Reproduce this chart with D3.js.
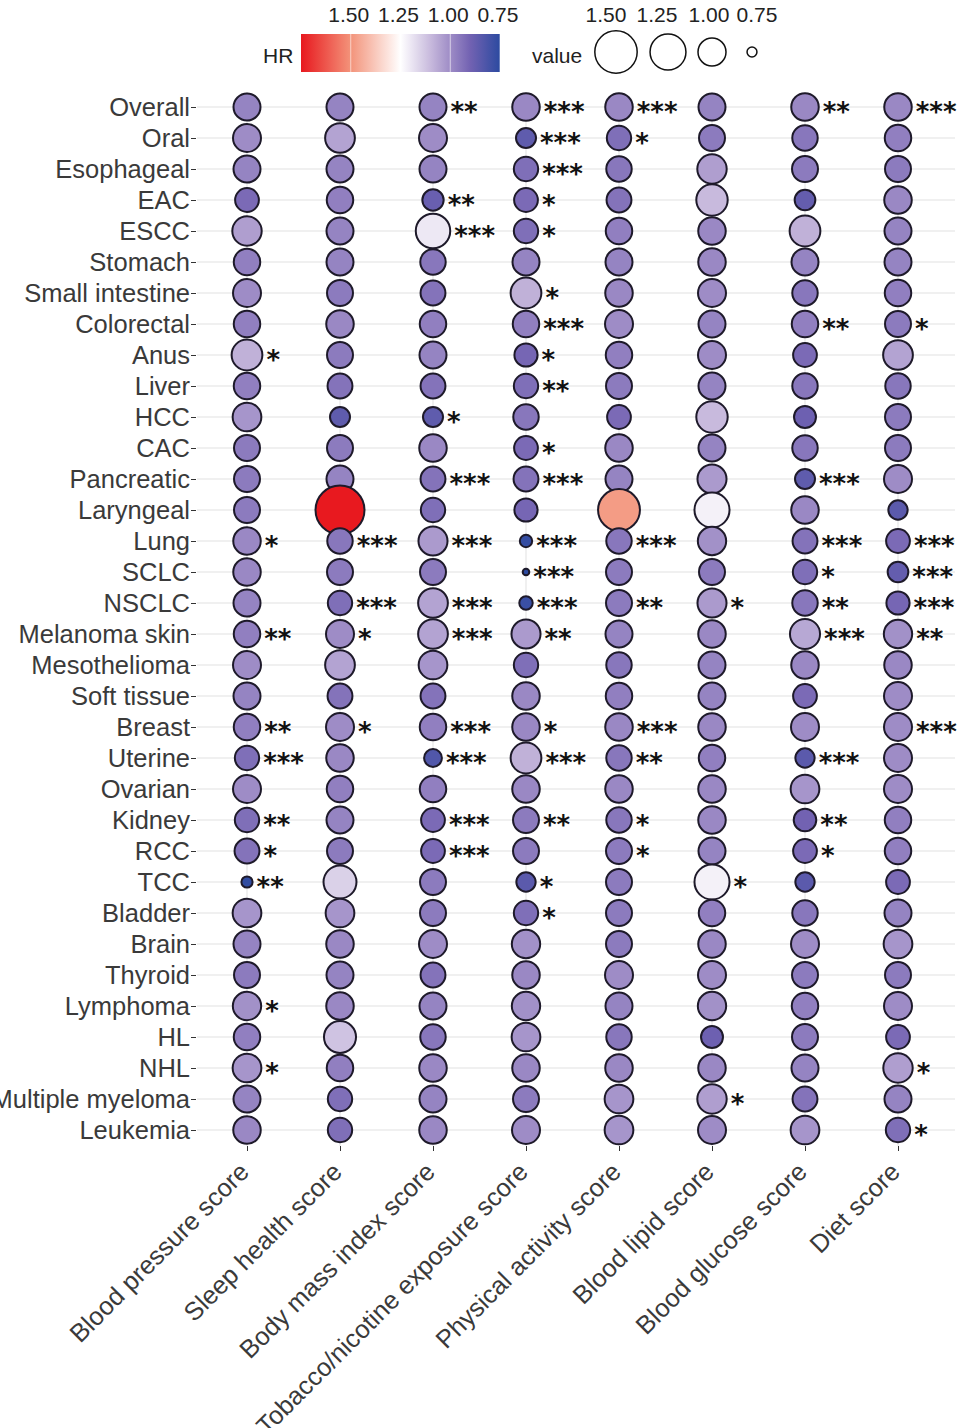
<!DOCTYPE html>
<html><head><meta charset="utf-8">
<script src="https://cdn.jsdelivr.net/npm/d3@7"></script>
<style>body{margin:0;background:#fff}svg{font-family:Arial,"Liberation Sans",sans-serif}</style>
</head><body><svg id="c" width="959" height="1428"></svg>
<script>
const cancers=["Overall","Oral","Esophageal","EAC","ESCC","Stomach","Small intestine","Colorectal","Anus","Liver","HCC","CAC","Pancreatic","Laryngeal","Lung","SCLC","NSCLC","Melanoma skin","Mesothelioma","Soft tissue","Breast","Uterine","Ovarian","Kidney","RCC","TCC","Bladder","Brain","Thyroid","Lymphoma","HL","NHL","Multiple myeloma","Leukemia"];
const scores=["Blood pressure score","Sleep health score","Body mass index score","Tobacco/nicotine exposure score","Physical activity score","Blood lipid score","Blood glucose score","Diet score"];
const hrBP=[0.98,1.0,0.98,0.92,1.04,0.97,1.0,0.97,1.08,0.97,1.02,0.96,0.96,0.96,0.99,0.99,0.98,0.97,1.0,0.98,0.97,0.93,1.0,0.93,0.94,0.76,1.02,0.98,0.96,1.01,0.97,1.02,0.98,0.99];
const hrSleep=[0.98,1.05,0.98,0.97,0.98,0.98,0.96,0.99,0.96,0.94,0.86,0.96,0.98,1.85,0.95,0.96,0.93,1.0,1.05,0.94,1.0,0.99,0.97,0.98,0.96,1.15,1.02,0.99,0.98,0.99,1.12,0.97,0.93,0.93];
const hrBMI=[0.98,1.0,0.98,0.88,1.2,0.95,0.94,0.97,0.98,0.94,0.86,0.99,0.94,0.93,1.03,0.96,1.05,1.05,1.02,0.94,0.97,0.83,0.97,0.92,0.92,0.96,0.96,1.0,0.94,0.98,0.95,0.99,0.98,0.99];
const hrTob=[0.99,0.86,0.93,0.92,0.93,0.98,1.08,0.97,0.91,0.93,0.95,0.92,0.94,0.91,0.77,0.73,0.78,1.03,0.93,0.99,0.99,1.08,0.99,0.96,0.96,0.85,0.93,1.01,0.99,1.01,1.02,0.99,0.96,1.0];
const hrPA=[0.99,0.93,0.95,0.94,0.97,0.98,0.99,1.0,0.97,0.96,0.92,0.99,0.98,1.48,0.95,0.96,0.96,0.98,0.95,0.97,0.99,0.95,0.99,0.95,0.96,0.96,0.96,0.96,1.0,0.98,0.95,0.99,1.02,1.02];
const hrLipid=[0.98,0.96,1.04,1.1,0.99,0.99,1.0,0.98,1.0,0.98,1.1,0.98,1.03,1.22,1.01,0.96,1.03,0.99,0.98,0.98,0.99,0.97,0.99,0.99,0.98,1.22,0.97,0.99,1.0,1.01,0.89,0.99,1.04,1.0];
const hrGlu=[0.99,0.95,0.96,0.87,1.08,0.98,0.95,0.97,0.92,0.95,0.89,0.95,0.86,0.99,0.94,0.93,0.95,1.06,0.99,0.92,1.0,0.85,1.02,0.9,0.92,0.85,0.95,1.0,0.96,0.97,0.96,0.98,0.94,1.02];
const hrDiet=[0.99,0.97,0.96,0.99,0.98,0.98,0.97,0.96,1.05,0.95,0.96,0.96,1.0,0.85,0.92,0.87,0.91,1.01,0.99,1.0,1.0,1.0,1.0,0.97,0.97,0.92,0.98,1.02,0.96,1.0,0.92,1.04,0.98,0.93];
const sigBP=["","","","","","","","","*","","","","","","*","","","**","","","**","***","","**","*","**","","","","*","","*","",""];
const sigSleep=["","","","","","","","","","","","","","","***","","***","*","","","*","","","","","","","","","","","","",""];
const sigBMI=["**","","","**","***","","","","","","*","","***","","***","","***","***","","","***","***","","***","***","","","","","","","","",""];
const sigTob=["***","***","***","*","*","","*","***","*","**","","*","***","","***","***","***","**","","","*","***","","**","","*","*","","","","","","",""];
const sigPA=["***","*","","","","","","","","","","","","","***","","**","","","","***","**","","*","*","","","","","","","","",""];
const sigLipid=["","","","","","","","","","","","","","","","","*","","","","","","","","","*","","","","","","","*",""];
const sigGlu=["**","","","","","","","**","","","","","***","","***","*","**","***","","","","***","","**","*","","","","","","","","",""];
const sigDiet=["***","","","","","","","*","","","","","","","***","***","***","**","","","***","","","","","","","","","","","*","","*"];
const legendTicks=[1.50,1.25,1.00,0.75];

const hrCols=[hrBP,hrSleep,hrBMI,hrTob,hrPA,hrLipid,hrGlu,hrDiet];
const sigCols=[sigBP,sigSleep,sigBMI,sigTob,sigPA,sigLipid,sigGlu,sigDiet];
const svg=d3.select("#c");
const x=d3.scalePoint().domain(scores).range([247,898]);
const y=d3.scalePoint().domain(cancers).range([107,1130]);
const color=d3.scaleLinear().domain([0.75,0.9,1.0,1.1,1.25,1.5,1.75])
  .range(["#2c4aa0","#7262b2","#9e8cc6","#c8badd","#ffffff","#f3937a","#e8191f"]).clamp(true);
const area=d3.scaleLinear().domain([0.72,1.0,1.8]).range([4,196,600]).clamp(true);
const r=v=>Math.sqrt(area(v));

svg.append("g").selectAll("line").data(cancers).join("line")
 .attr("x1",197).attr("x2",955).attr("y1",d=>y(d)).attr("y2",d=>y(d))
 .attr("stroke","#ebebeb").attr("stroke-width",1.5);
svg.append("g").selectAll("line").data(scores).join("line")
 .attr("x1",d=>x(d)).attr("x2",d=>x(d)).attr("y1",92).attr("y2",1146)
 .attr("stroke","#ebebeb").attr("stroke-width",1.5);

const ya=svg.append("g").attr("transform","translate(196,0)").call(d3.axisLeft(y).tickSize(5).tickPadding(1));
ya.select(".domain").remove();
ya.selectAll("text").attr("font-size",25.5).attr("fill","#3a3a3a").attr("font-family","Arial,Liberation Sans,sans-serif");
ya.selectAll("line").attr("stroke","#333");
const xa=svg.append("g").attr("transform","translate(0,1146)").call(d3.axisBottom(x).tickSize(5).tickFormat(""));
xa.select(".domain").remove();
xa.selectAll("line").attr("stroke","#333");
svg.append("g").selectAll("text").data(scores).join("text")
 .attr("transform",d=>`translate(${x(d)-10},1160) rotate(-45)`)
 .attr("text-anchor","end").attr("dy","0.75em").attr("font-size",25.5).attr("fill","#3a3a3a").text(d=>d);

const cells=[];
cancers.forEach((c,i)=>scores.forEach((s,j)=>cells.push({c,s,v:hrCols[j][i],sig:sigCols[j][i],i})));
svg.append("g").selectAll("circle").data(cells).join("circle")
 .attr("cx",d=>x(d.s)).attr("cy",d=>y(d.c)).attr("r",d=>r(d.v))
 .attr("fill",d=>color(d.v)).attr("stroke","#1e1a2a").attr("stroke-width",2);
svg.append("g").selectAll("text").data(cells.filter(d=>d.sig)).join("text")
 .attr("x",d=>x(d.s)+r(d.v)+4).attr("y",d=>y(d.c)+14)
 .attr("font-size",26).attr("font-weight","bold").attr("font-family","DejaVu Sans").attr("fill","#111").text(d=>d.sig);

const lx=d3.scaleLinear().domain([1.75,0.75]).range([301,500]);
const defs=svg.append("defs");
const grad=defs.append("linearGradient").attr("id","g");
d3.range(0,1.0001,0.05).forEach(t=>grad.append("stop").attr("offset",t).attr("stop-color",color(1.75-t)));
svg.append("rect").attr("x",301).attr("y",34).attr("width",199).attr("height",38).attr("fill","url(#g)");
svg.selectAll(".lt").data(legendTicks).join("line").attr("x1",d=>lx(d)).attr("x2",d=>lx(d))
 .attr("y1",34).attr("y2",72).attr("stroke","#fff").attr("stroke-opacity",0.6);
svg.selectAll(".ll").data(legendTicks).join("text").attr("x",d=>lx(d)-2).attr("y",22)
 .attr("text-anchor","middle").attr("font-size",21).attr("fill","#222").text(d=>d.toFixed(2));
svg.append("text").attr("x",263).attr("y",63).attr("font-size",21).attr("fill","#222").text("HR");
const sx=[616,668,712,752];
const slx=[606,657,709,757];
svg.append("text").attr("x",532).attr("y",63).attr("font-size",21).attr("fill","#222").text("value");
svg.selectAll(".sc").data(legendTicks).join("circle").attr("cx",(d,i)=>sx[i]).attr("cy",52)
 .attr("r",d=>r(d)).attr("fill","none").attr("stroke","#111").attr("stroke-width",1.5);
svg.selectAll(".sl").data(legendTicks).join("text").attr("x",(d,i)=>slx[i]).attr("y",22)
 .attr("text-anchor","middle").attr("font-size",21).attr("fill","#222").text(d=>d.toFixed(2));
</script></body></html>
